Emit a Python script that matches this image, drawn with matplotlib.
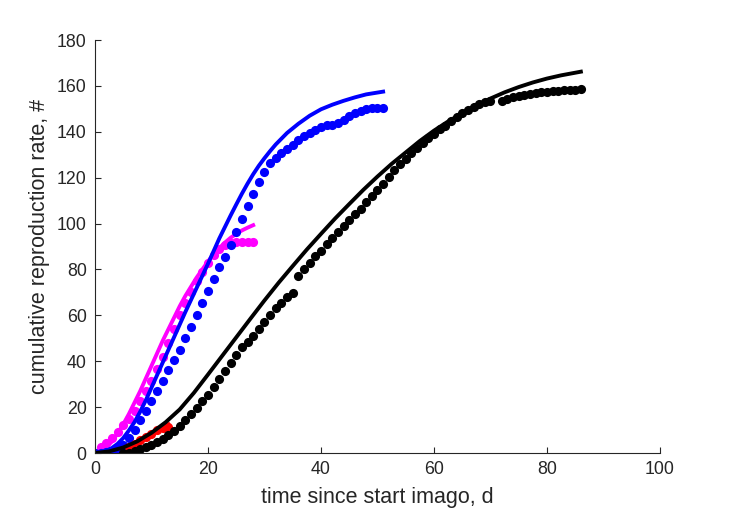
import numpy as np
import matplotlib
matplotlib.use("Agg")
from matplotlib import pyplot as plt

# black: observed cumulative reproduction (dots) and fit (line)
black_days = [5, 6, 7, 8, 9, 10, 11, 12, 13, 14, 15, 16, 17, 18, 19, 20, 21, 22, 23, 24,
              25, 26, 27, 28, 29, 30, 31, 32, 33, 34, 35, 36, 37, 38, 39, 40, 41, 42, 43, 44,
              45, 46, 47, 48, 49, 50, 51, 52, 53, 54, 55, 56, 57, 58, 59, 60, 61, 62, 63, 64,
              65, 66, 67, 68, 69, 70, 72, 73, 74, 75, 76, 77, 78, 79, 80, 81, 82, 83, 84, 85, 86]
black_obs = [0, 0.2, 0.8, 1.6, 2.5, 3.6, 4.8, 6.2, 7.8, 9.6, 11.8, 14.2, 16.8, 19.5, 22.5, 25.5,
             28.8, 32.2, 35.8, 39.2, 42.8, 46.0, 48.2, 51.0, 54.0, 57.0, 60.0, 63.0, 65.5, 67.8,
             69.8, 77.3, 80.3, 83.0, 85.7, 88.0, 91.0, 93.7, 96.2, 98.8, 101.5, 104.0, 106.5,
             109.3, 111.8, 114.6, 117.2, 120.2, 123.2, 125.8, 128.3, 130.8, 133.0, 135.2, 137.2,
             139.2, 141.0, 142.7, 144.6, 146.6, 148.2, 149.7, 151.0, 152.2, 153.0, 153.6, 153.4,
             154.5, 155.2, 155.7, 156.2, 156.6, 157.0, 157.2, 157.4, 157.6, 157.8, 158.0, 158.2,
             158.4, 158.5]
black_fit_t = [0, 2.5, 5, 7.5, 10, 12.5, 15, 17.5, 20, 22.5, 25, 27.5, 30, 32.5, 35, 37.5, 40,
               42.5, 45, 47.5, 50, 52.5, 55, 57.5, 60, 62.5, 65, 67.5, 70, 72.5, 75, 77.5, 80,
               82.5, 86]
black_fit = [0, 0.7, 2.4, 5.1, 8.8, 13.4, 19, 26.2, 34.2, 42.3, 50.4, 58.5, 66.5, 74.2, 81.5,
             88.7, 95.5, 102.2, 108.5, 114.7, 120.5, 126, 131, 136, 140.5, 144.5, 148, 151.5,
             154.5, 157.2, 159.5, 161.5, 163.2, 164.6, 166.2]

# blue
blue_days = list(range(0, 52))
blue_obs = [0, 0, 0.3, 0.8, 1.8, 3.5, 6.5, 10, 14.2, 18.2, 22.5, 27, 31.6, 36.2, 40.5, 45, 50,
            55, 60.2, 65.5, 70.8, 76, 81, 85.6, 90.7, 96.5, 102, 107.7, 112.8, 118, 122.6,
            126.3, 128.5, 130.6, 132.4, 134.3, 136.4, 138.2, 139.4, 140.8, 142.2, 143, 143,
            143.7, 145.2, 147, 148.3, 149.2, 149.8, 150.2, 150.5, 150.5]
blue_fit_t = [0, 1, 2, 3, 4, 5, 6, 7, 8, 9, 10, 12, 14, 16, 18, 20, 22, 24, 25, 26, 27, 28, 29,
              30, 31, 32, 34, 36, 38, 40, 42, 44, 46, 48, 51]
blue_fit = [0, 0.3, 1, 2.2, 4, 6.5, 9.8, 13.5, 18, 23, 28.5, 39.5, 50.5, 61.5, 72, 82.5, 93.5,
            103.5, 108.3, 113, 117.4, 121.5, 125.2, 128.5, 131.6, 134.5, 139.5, 143.5, 147,
            149.8, 151.8, 153.5, 155, 156.3, 157.5]

# magenta
mag_days = list(range(0, 29))
mag_obs = [0, 2.5, 4.5, 6.5, 9, 12, 15, 18.5, 22.5, 27, 31.5, 36.5, 42, 48, 54, 60, 65.5, 70,
           75, 79, 83, 86.5, 89, 90.7, 91.7, 92, 92, 92, 92]
mag_fit_t = list(range(0, 29))
mag_fit = [0, 0.8, 2.5, 5, 8.5, 12.5, 17, 22, 27, 32.5, 38, 43.5, 49, 54, 59, 64, 68.5, 72.5,
           76.5, 80, 83.5, 86.5, 89.3, 91.7, 93.8, 95.5, 97, 98.2, 99.3]

# red
red_days = [6, 7, 8, 9, 10, 11, 12, 13]
red_obs = [2.5, 4, 5.5, 7, 8.5, 10, 11, 11.5]
red_fit_t = [6, 7, 8, 9, 10, 11, 12, 13]
red_fit = [2.6, 4.0, 5.5, 7.1, 8.6, 10.0, 11.3, 12.5]

plt.rcParams['font.family'] = ['Liberation Sans', 'DejaVu Sans']
axcol = '#262626'

fig = plt.figure(figsize=(7.29, 5.21), dpi=100)
ax = fig.add_axes([0.1303, 0.1305, 0.775, 0.7927])

ms = 6.6
lw = 2.8
ax.plot(mag_days, mag_obs, 'o', color='#ff00ff', ms=ms, mec='none')
ax.plot(mag_fit_t, mag_fit, '-', color='#ff00ff', lw=lw)
ax.plot(blue_days, blue_obs, 'o', color='#0000ff', ms=ms, mec='none')
ax.plot(blue_fit_t, blue_fit, '-', color='#0000ff', lw=lw)
ax.plot(red_days, red_obs, 'o', color='#ff0000', ms=ms, mec='none')
ax.plot(red_fit_t, red_fit, '-', color='#ff0000', lw=lw)
ax.plot(black_days, black_obs, 'o', color='k', ms=ms, mec='none')
ax.plot(black_fit_t, black_fit, '-', color='k', lw=lw)

ax.set_xlim(0, 100)
ax.set_ylim(0, 180)
ax.set_xticks(np.arange(0, 101, 20))
ax.set_yticks(np.arange(0, 181, 20))
ax.spines['top'].set_visible(False)
ax.spines['right'].set_visible(False)
for s in ['left', 'bottom']:
    ax.spines[s].set_color(axcol)
    ax.spines[s].set_linewidth(0.8)
ax.tick_params(direction='in', length=4, width=0.8, colors=axcol, labelsize=12.8, pad=6)
ax.set_xlabel('time since start imago, d', fontsize=15.5, color=axcol, labelpad=6)
ax.set_ylabel('cumulative reproduction rate, #', fontsize=15.5, color=axcol, labelpad=5)

fig.savefig('out.png', dpi=100)
